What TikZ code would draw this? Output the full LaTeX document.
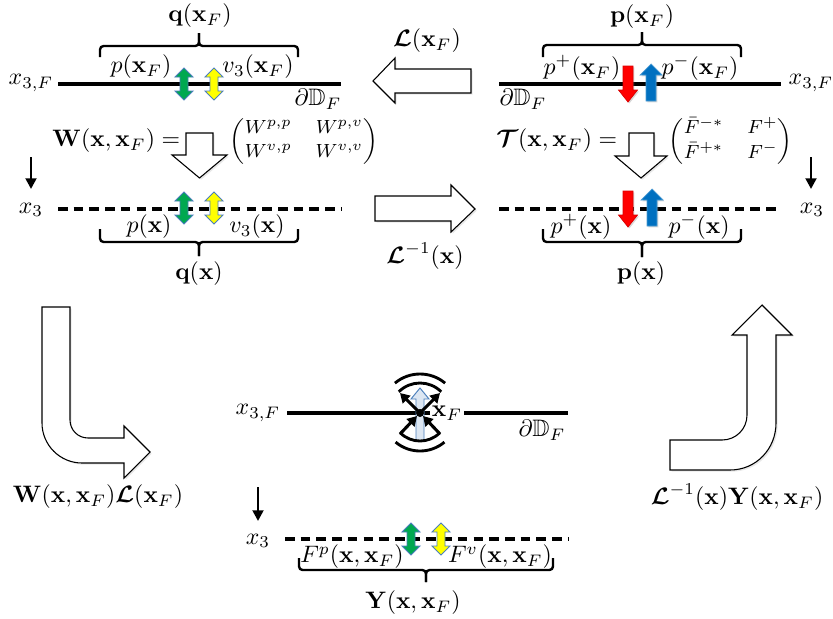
\documentclass[tikz,border=0pt]{standalone}
\usepackage{amsmath,amssymb}
\usetikzlibrary{arrows.meta,shadows}
\definecolor{arrowedge}{HTML}{4A7EBB}
\definecolor{mygreen}{HTML}{00A850}
\definecolor{myyellow}{HTML}{FFFF00}
\definecolor{myred}{HTML}{FF0000}
\definecolor{myblue}{HTML}{0070C0}
\definecolor{lightblue}{HTML}{DCE6F2}
\newcommand{\bL}{\boldsymbol{\mathcal{L}}}
\newcommand{\bT}{\boldsymbol{\mathcal{T}}}
\tikzset{
  lbl/.style={inner sep=1pt},
  bline/.style={line width=1.3pt},
  dline/.style={line width=1.3pt, dash pattern=on 4pt off 2.6pt},
  bracestyle/.style={line width=1pt, rounded corners=1.5pt},
  hollow/.style={draw=black, line width=0.45pt, fill=white, line join=miter,
    drop shadow={opacity=0.18, shadow xshift=0.7pt, shadow yshift=-0.7pt}},
  smallarrow/.style={line width=1.1pt, -{Triangle[length=4.5pt,width=4.5pt]}},
  srcarrow/.style={line width=1.3pt, -{Triangle[length=4pt,width=4.5pt]}},
  arcline/.style={line width=1.2pt},
  pics/dbl/.style={code={
    \draw[draw=arrowedge, line width=0.4pt, fill=#1]
      (0,-16) -- (9,-7) -- (4,-7) -- (4,7) -- (9,7) -- (0,16) -- (-9,7)
      -- (-4,7) -- (-4,-7) -- (-9,-7) -- cycle;}},
  pics/redown/.style={code={
    \draw[draw=myred!85!black, line width=0.3pt, fill=myred,
      drop shadow={opacity=0.3, shadow xshift=0.6pt, shadow yshift=-0.6pt}]
      (-5,-18) -- (5,-18) -- (5,6) -- (9.5,6) -- (0,18) -- (-9.5,6) -- (-5,6) -- cycle;}},
  pics/blueup/.style={code={
    \draw[draw=myblue!70!white, line width=0.3pt, fill=myblue,
      drop shadow={opacity=0.3, shadow xshift=0.6pt, shadow yshift=-0.6pt}]
      (-5,18) -- (5,18) -- (5,-8) -- (11,-8) -- (0,-19) -- (-11,-8) -- (-5,-8) -- cycle;}},
}
\begin{document}
\begin{tikzpicture}[x=0.42pt, y=-0.42pt]
\useasboundingbox (0,0) rectangle (833,618);

% ---------- top-left panel ----------
\node[lbl] (qF) at (200,16) {$\mathbf{q}(\mathbf{x}_F)$};
\draw[bracestyle] (100,57) |- (199,46) -- (199,33);
\draw[bracestyle] (298,57) |- (199,46) -- (199,33);
\node[lbl] (pF) at (141,67) {$p(\mathbf{x}_F)$};
\node[lbl] (vF) at (258,67) {$v_3(\mathbf{x}_F)$};
\node[lbl] (x3FL) at (31,83) {$x_{3,F}$};
\coordinate (TLa) at (58,84);
\coordinate (TLb) at (341,84);
\draw[bline] (TLa) -- (TLb);
\node[lbl] (dDL) at (318,99) {$\partial\mathbb{D}_F$};
\pic at (184,84) {dbl=mygreen};
\pic at (214,84) {dbl=myyellow};

\node[lbl, anchor=east] (Weq) at (183,141) {$\mathbf{W}(\mathbf{x},\mathbf{x}_F) =$};
\node[lbl, anchor=west] (Wmat) at (227,141) {\footnotesize$\begin{pmatrix} W^{p,p} & W^{p,v}\\[0.5pt] W^{v,p} & W^{v,v}\end{pmatrix}$};
\draw[hollow] (186,133) -- (213,133) -- (213,155) -- (227,155) -- (199.5,178) -- (172,155) -- (186,155) -- cycle;

\coordinate (dL1) at (31,157);
\coordinate (dL2) at (31,189);
\draw[smallarrow] (dL1) -- (dL2);
\node[lbl] (x3L) at (31,210) {$x_3$};
\coordinate (MLa) at (58,209);
\coordinate (MLb) at (341,209);
\draw[dline] (MLa) -- (MLb);
\pic at (184,208) {dbl=mygreen};
\pic at (214,208) {dbl=myyellow};
\node[lbl] (px) at (149,227) {$p(\mathbf{x})$};
\node[lbl] (vx) at (257,227) {$v_3(\mathbf{x})$};
\draw[bracestyle] (100,229) |- (199,242) -- (199,256);
\draw[bracestyle] (298,229) |- (199,242) -- (199,256);
\node[lbl] (qx) at (199,274) {$\mathbf{q}(\mathbf{x})$};

% ---------- middle arrows ----------
\node[lbl] (LF) at (427,41) {$\bL(\mathbf{x}_F)$};
\draw[hollow] (471,69) -- (471,93) -- (395,93) -- (395,103) -- (373,81) -- (395,58) -- (395,69) -- cycle;
\draw[hollow] (375,196) -- (451,196) -- (451,185) -- (475,209) -- (451,232) -- (451,221) -- (375,221) -- cycle;
\node[lbl] (Linv) at (425,256) {$\bL^{-1}(\mathbf{x})$};

% ---------- top-right panel ----------
\node[lbl] (pFF) at (642,17) {$\mathbf{p}(\mathbf{x}_F)$};
\draw[bracestyle] (543,57) |- (642,45) -- (642,32);
\draw[bracestyle] (741,57) |- (642,45) -- (642,32);
\node[lbl] (ppF) at (582,68) {$p^{+}(\mathbf{x}_F)$};
\node[lbl] (pmF) at (700,68) {$p^{-}(\mathbf{x}_F)$};
\coordinate (TRa) at (499,84);
\coordinate (TRb) at (781,84);
\draw[bline] (TRa) -- (TRb);
\node[lbl] (x3FR) at (811,83) {$x_{3,F}$};
\node[lbl] (dDR) at (523,99) {$\partial\mathbb{D}_F$};
\pic at (628,84) {redown};
\pic at (651,83) {blueup};

\node[lbl, anchor=east] (Teq) at (620,141) {$\bT(\mathbf{x},\mathbf{x}_F) =$};
\node[lbl, anchor=west] (Tmat) at (666,141) {\footnotesize$\begin{pmatrix} \bar{F}^{-*} & F^{+}\\[1pt] \bar{F}^{+*} & F^{-}\end{pmatrix}$};
\draw[hollow] (629,133) -- (654,133) -- (654,156) -- (667,156) -- (641,178) -- (615,156) -- (629,156) -- cycle;

\coordinate (dR1) at (811,157);
\coordinate (dR2) at (811,189);
\draw[smallarrow] (dR1) -- (dR2);
\node[lbl] (x3R) at (812,210) {$x_3$};
\coordinate (MRa) at (499,209);
\coordinate (MRb) at (781,209);
\draw[dline] (MRa) -- (MRb);
\pic at (628,209) {redown};
\pic at (652,208) {blueup};
\node[lbl] (ppx) at (581,227) {$p^{+}(\mathbf{x})$};
\node[lbl] (pmx) at (699,227) {$p^{-}(\mathbf{x})$};
\draw[bracestyle] (543,229) |- (642,242) -- (642,257);
\draw[bracestyle] (741,229) |- (642,242) -- (642,257);
\node[lbl] (pxx) at (641,274) {$\mathbf{p}(\mathbf{x})$};

% ---------- bent arrows ----------
\draw[hollow] (42,307) -- (42,423) .. controls (42,445) and (60,463) .. (82,463)
  -- (124,463) -- (124,478) -- (150,452) -- (124,426) -- (124,438) -- (88,438)
  .. controls (78,438) and (70,430) .. (70,420) -- (70,307) -- cycle;
\node[lbl] (WL) at (98,497) {$\mathbf{W}(\mathbf{x},\mathbf{x}_F)\bL(\mathbf{x}_F)$};

\draw[hollow] (762,305) -- (792,335) -- (776,335) -- (776,423)
  .. controls (776,449) and (756,470) .. (730,470) -- (670,470) -- (670,440)
  -- (722,440) .. controls (736,440) and (747,429) .. (747,415) -- (747,335)
  -- (732,335) -- cycle;
\node[lbl] (LY) at (737,497) {$\bL^{-1}(\mathbf{x})\mathbf{Y}(\mathbf{x},\mathbf{x}_F)$};

% ---------- bottom-centre panel ----------
\node[lbl] (x3FB) at (258,413) {$x_{3,F}$};
\coordinate (BLa) at (287,413);
\coordinate (BLb) at (568,413);
\draw[bline] (BLa) -- (BLb);
\node[lbl] (dDB) at (542,430) {$\partial\mathbb{D}_F$};
\coordinate (S) at (420,413);
\draw[draw=arrowedge, line width=0.4pt, fill=lightblue]
  (416,441) -- (424,441) -- (424,399) -- (429,399) -- (420,388) -- (411,399) -- (416,399) -- cycle;
\node[fill=white, inner sep=0.6pt] (xFs) at (447,413) {$\mathbf{x}_F$};
\fill (S) circle (4);
\coordinate (ul) at (400,393);
\coordinate (ur) at (440,393);
\coordinate (ll) at (400,434);
\coordinate (lr) at (440,434);
\coordinate (lle) at (417,416);
\coordinate (lre) at (423,416);
\draw[srcarrow] (S) -- (ul);
\draw[srcarrow] (S) -- (ur);
\draw[srcarrow] (ll) -- (lle);
\draw[srcarrow] (lr) -- (lre);
\draw[arcline] ([shift={(-45:30)}]S) arc[start angle=-45, end angle=-135, radius=30];
\draw[arcline] ([shift={(-50:39)}]S) arc[start angle=-50, end angle=-130, radius=39];
\draw[arcline] ([shift={(45:28)}]S) arc[start angle=45, end angle=135, radius=28];
\draw[arcline] ([shift={(50:38)}]S) arc[start angle=50, end angle=130, radius=38];

\coordinate (dB1) at (258,487);
\coordinate (dB2) at (258,521);
\draw[smallarrow] (dB1) -- (dB2);
\node[lbl] (x3B) at (258,541) {$x_3$};
\coordinate (BDa) at (285,539);
\coordinate (BDb) at (568,539);
\draw[dline] (BDa) -- (BDb);
\pic at (411,539) {dbl=mygreen};
\pic at (441,539) {dbl=myyellow};
\node[lbl] (Fp) at (352,557) {$F^{p}(\mathbf{x},\mathbf{x}_F)$};
\node[lbl] (Fv) at (500,557) {$F^{v}(\mathbf{x},\mathbf{x}_F)$};
\draw[bracestyle] (299,558) |- (426,570) -- (426,582);
\draw[bracestyle] (553,558) |- (426,570) -- (426,582);
\node[lbl] (Y) at (413,603) {$\mathbf{Y}(\mathbf{x},\mathbf{x}_F)$};
\end{tikzpicture}
\end{document}
